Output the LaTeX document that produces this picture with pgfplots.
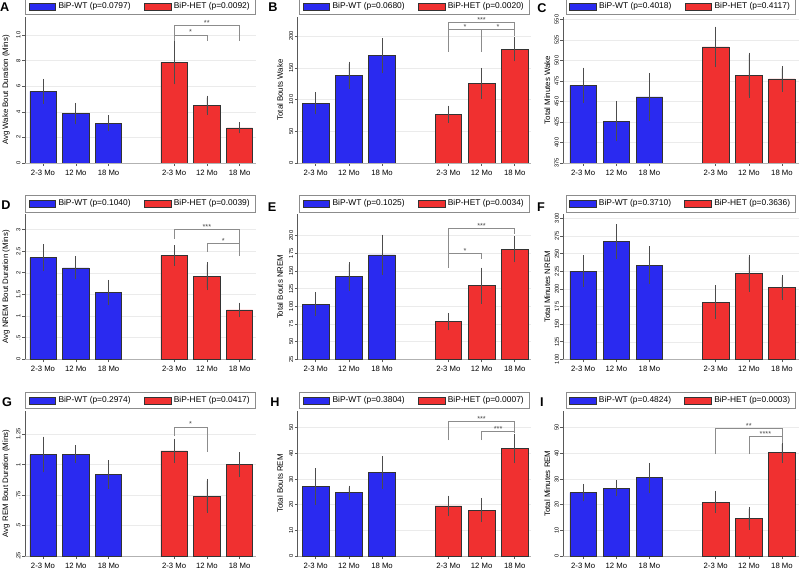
\documentclass[border=0pt]{standalone}
\usepackage{pgfplots}
\pgfplotsset{compat=1.18}
\usepackage{fontspec}
\setmainfont{Liberation Sans}
\definecolor{wtblue}{RGB}{42,42,240}
\definecolor{hetred}{RGB}{240,48,48}
\pgfplotsset{
 panel/.style={
  scale only axis, xmax=7.5,
  axis x line*=bottom, axis y line*=left,
  xtick={1,2,3,5,6,7},
  xticklabels={2-3 Mo,12 Mo,18 Mo,2-3 Mo,12 Mo,18 Mo},
  xticklabel style={font=\fontsize{5.8}{6}\selectfont, inner sep=1pt, yshift=-2pt},
  yticklabel style={font=\fontsize{4.3}{5}\selectfont, rotate=90, anchor=south, inner sep=1pt},
  ylabel style={font=\fontsize{5.9}{6}\selectfont, anchor=center},
  tick align=outside, major tick length=2.2pt,
  ymajorgrids, grid style={black!8, line width=0.3pt},
  tick style={black!65, line width=0.4pt},
  x axis line style={black!30, line width=0.4pt},
  y axis line style={black!65, line width=0.4pt},
  legend columns=2,
  legend style={at={(0.5,1)}, anchor=south, yshift=1.5pt, draw=black!45, line width=0.4pt,
    font=\fontsize{6.3}{7}\selectfont, inner xsep=2.2pt, inner ysep=1.2pt,
    /tikz/every even column/.append style={column sep=8pt}},
 },
 col1/.style={xmin=0.45, width=173.25pt, ylabel style={at={(axis description cs:-0.082,0.5)}}},
 col2/.style={xmin=0.46, width=175.2pt, ylabel style={at={(axis description cs:-0.076,0.5)}}},
 col3/.style={xmin=0.40, width=176.4pt, ylabel style={at={(axis description cs:-0.068,0.5)}}},
 row1/.style={height=109.5pt},
 row2/.style={height=108.75pt},
 row3/.style={height=108.75pt},
 wt/.style={ybar, bar width=0.8, bar shift=0pt, fill=wtblue, draw=black!80, line width=0.4pt,
   legend image code/.code={\draw[##1, draw=black!80] (0pt,-2.6pt) rectangle (20pt,2.6pt);},
   error bars/.cd, y dir=both, y explicit, error mark=-,
   error bar style={black!70, line width=0.45pt},
   error mark options={black!70, line width=0.45pt, mark size=1.6pt}},
 het/.style={ybar, bar width=0.8, bar shift=0pt, fill=hetred, draw=black!80, line width=0.4pt,
   legend image code/.code={\draw[##1, draw=black!80] (0pt,-2.6pt) rectangle (20pt,2.6pt);},
   error bars/.cd, y dir=both, y explicit, error mark=-,
   error bar style={black!70, line width=0.45pt},
   error mark options={black!70, line width=0.45pt, mark size=1.6pt}},
 brk/.style={forget plot, black!45, line width=0.5pt, no marks, sharp plot},
}
\tikzset{stars/.style={font=\fontsize{5.5}{6}\selectfont, anchor=base, inner sep=0pt, text=black!70},
  letter/.style={font=\fontsize{9.5}{10}\selectfont\bfseries, anchor=center, inner sep=0pt}}
\begin{document}
\begin{tikzpicture}
% ---------------- A
\begin{axis}[panel, col1, row1, at={(18.75pt,306.75pt)}, anchor=south west,
  ymin=0, ymax=11.4, ytick={0,2,4,6,8,10}, yticklabels={0,2,4,6,8,10},
  ylabel={Avg Wake Bout Duration (Mins)}]
\addplot[wt] coordinates {(1,5.6) +- (0,0.8) (2,3.85) +- (0,0.67) (3,3.1) +- (0,0.45)};
\addlegendentry{BiP-WT (p=0.0797)}
\addplot[het] coordinates {(5,7.85) +- (0,1.55) (6,4.5) +- (0,0.6) (7,2.75) +- (0,0.27)};
\addlegendentry{BiP-HET (p=0.0092)}
\addplot[brk] coordinates {(5,9.56) (5,10.73) (7,10.73) (7,9.56)};
\addplot[brk] coordinates {(5,10.0) (6,10.0) (6,9.56)};
\node[stars] at (axis cs:6,10.73) {**};
\node[stars] at (axis cs:5.5,10.0) {*};
\end{axis}
% ---------------- B
\begin{axis}[panel, col2, row1, at={(223.3pt,306.75pt)}, anchor=south west,
  ymin=0, ymax=230, ytick={0,50,100,150,200}, yticklabels={0,50,100,150,200},
  ylabel={Total Bouts Wake}]
\addplot[wt] coordinates {(1,94) +- (0,14) (2,138.5) +- (0,17.8) (3,169) +- (0,24.5)};
\addlegendentry{BiP-WT (p=0.0680)}
\addplot[het] coordinates {(5,77) +- (0,10) (6,125.5) +- (0,21) (7,179.5) +- (0,16)};
\addlegendentry{BiP-HET (p=0.0020)}
\addplot[brk] coordinates {(5,175.5) (5,222) (7,222) (7,200)};
\addplot[brk] coordinates {(5,210.6) (7,210.6)};
\addplot[brk] coordinates {(6,210.6) (6,175.5)};
\node[stars] at (axis cs:6,222) {***};
\node[stars] at (axis cs:5.5,210.6) {*};
\node[stars] at (axis cs:6.5,210.6) {*};
\end{axis}
% ---------------- C
\begin{axis}[panel, col3, row1, at={(422.5pt,306.75pt)}, anchor=south west,
  ymin=375, ymax=553, ytick={375,400,425,450,475,500,525,550},
  yticklabels={375,400,425,450,475,500,525,550},
  ylabel={Total Minutes Wake}]
\addplot[wt] coordinates {(1,469.7) +- (0,19) (2,426) +- (0,22) (3,455.7) +- (0,26.5)};
\addlegendentry{BiP-WT (p=0.4018)}
\addplot[het] coordinates {(5,516.6) +- (0,22) (6,482) +- (0,25) (7,477.5) +- (0,13)};
\addlegendentry{BiP-HET (p=0.4117)}
\end{axis}
% ---------------- D
\begin{axis}[panel, col1, row2, at={(18.75pt,159.5pt)}, anchor=south west,
  ymin=0, ymax=3.35, ytick={0,0.5,1,1.5,2,2.5,3}, yticklabels={0,.5,1,1.5,2,2.5,3},
  ylabel={Avg NREM Bout Duration (Mins)}]
\addplot[wt] coordinates {(1,2.35) +- (0,0.26) (2,2.115) +- (0,0.22) (3,1.54) +- (0,0.245)};
\addlegendentry{BiP-WT (p=0.1040)}
\addplot[het] coordinates {(5,2.4) +- (0,0.19) (6,1.92) +- (0,0.27) (7,1.14) +- (0,0.12)};
\addlegendentry{BiP-HET (p=0.0039)}
\addplot[brk] coordinates {(5,2.79) (5,3.0) (7,3.0) (7,2.39)};
\addplot[brk] coordinates {(6,2.48) (6,2.68) (7,2.68)};
\node[stars] at (axis cs:6,3.0) {***};
\node[stars] at (axis cs:6.5,2.68) {*};
\end{axis}
% ---------------- E
\begin{axis}[panel, col2, row2, at={(223.3pt,159.5pt)}, anchor=south west,
  ymin=25, ymax=230, ytick={25,50,75,100,125,150,175,200},
  yticklabels={25,50,75,100,125,150,175,200},
  ylabel={Total Bouts NREM}]
\addplot[wt] coordinates {(1,102.8) +- (0,14) (2,142) +- (0,17.3) (3,172.6) +- (0,25.7)};
\addlegendentry{BiP-WT (p=0.1025)}
\addplot[het] coordinates {(5,78.3) +- (0,9.4) (6,129.2) +- (0,22.4) (7,180.7) +- (0,15.6)};
\addlegendentry{BiP-HET (p=0.0034)}
\addplot[brk] coordinates {(5,154.7) (5,210.4) (7,210.4) (7,201.9)};
\addplot[brk] coordinates {(5,175) (6,175) (6,167)};
\node[stars] at (axis cs:6,210.4) {***};
\node[stars] at (axis cs:5.5,175) {*};
\end{axis}
% ---------------- F
\begin{axis}[panel, col3, row2, at={(422.5pt,159.5pt)}, anchor=south west,
  ymin=100, ymax=305.7, ytick={100,125,150,175,200,225,250,275,300},
  yticklabels={100,125,150,175,200,225,250,275,300},
  ylabel={Total Minutes NREM}]
\addplot[wt] coordinates {(1,225.3) +- (0,19.6) (2,266.9) +- (0,22) (3,233.3) +- (0,24)};
\addlegendentry{BiP-WT (p=0.3710)}
\addplot[het] coordinates {(5,181.3) +- (0,21) (6,222) +- (0,23) (7,201.7) +- (0,14.6)};
\addlegendentry{BiP-HET (p=0.3636)}
\end{axis}
% ---------------- G
\begin{axis}[panel, col1, row3, at={(18.75pt,12pt)}, anchor=south west,
  ymin=0.25, ymax=1.44, ytick={0.25,0.5,0.75,1,1.25}, yticklabels={.25,.5,.75,1,1.25},
  ylabel={Avg REM Bout Duration (Mins)}]
\addplot[wt] coordinates {(1,1.083) +- (0,0.13) (2,1.086) +- (0,0.055) (3,0.919) +- (0,0.1)};
\addlegendentry{BiP-WT (p=0.2974)}
\addplot[het] coordinates {(5,1.113) +- (0,0.083) (6,0.742) +- (0,0.123) (7,1.0) +- (0,0.085)};
\addlegendentry{BiP-HET (p=0.0417)}
\addplot[brk] coordinates {(5,1.234) (5,1.31) (6,1.31) (6,1.1)};
\node[stars] at (axis cs:5.5,1.31) {*};
\end{axis}
% ---------------- H
\begin{axis}[panel, col2, row3, at={(223.3pt,12pt)}, anchor=south west,
  ymin=0, ymax=56.5, ytick={0,10,20,30,40,50}, yticklabels={0,10,20,30,40,50},
  ylabel={Total Bouts REM}]
\addplot[wt] coordinates {(1,27.0) +- (0,6.3) (2,24.7) +- (0,1.9) (3,32.6) +- (0,5.5)};
\addlegendentry{BiP-WT (p=0.3804)}
\addplot[het] coordinates {(5,19.5) +- (0,3.2) (6,17.9) +- (0,3.9) (7,41.9) +- (0,5)};
\addlegendentry{BiP-HET (p=0.0007)}
\addplot[brk] coordinates {(5,45.2) (5,52.6) (7,52.6) (7,47.8)};
\addplot[brk] coordinates {(6,45.2) (6,48.7) (7,48.7)};
\node[stars] at (axis cs:6,52.6) {***};
\node[stars] at (axis cs:6.5,48.7) {***};
\end{axis}
% ---------------- I
\begin{axis}[panel, col3, row3, at={(422.5pt,12pt)}, anchor=south west,
  ymin=0, ymax=56.5, ytick={0,10,20,30,40,50}, yticklabels={0,10,20,30,40,50},
  ylabel={Total Minutes REM}]
\addplot[wt] coordinates {(1,24.7) +- (0,2.6) (2,26.4) +- (0,2.3) (3,30.5) +- (0,5)};
\addlegendentry{BiP-WT (p=0.4824)}
\addplot[het] coordinates {(5,21.0) +- (0,3.5) (6,14.7) +- (0,3.6) (7,40.4) +- (0,3.2)};
\addlegendentry{BiP-HET (p=0.0003)}
\addplot[brk] coordinates {(5,39.7) (5,49.7) (7,49.7) (7,43.9)};
\addplot[brk] coordinates {(6,39.7) (6,46.75) (7,46.75)};
\node[stars] at (axis cs:6,49.7) {**};
\node[stars] at (axis cs:6.5,46.75) {****};
\end{axis}
% panel letters
\node[letter] at (3.5pt,423.5pt) {A};
\node[letter] at (204.75pt,423.5pt) {B};
\node[letter] at (406.5pt,423pt) {C};
\node[letter] at (4.5pt,275.25pt) {D};
\node[letter] at (204pt,273.75pt) {E};
\node[letter] at (405.75pt,273.75pt) {F};
\node[letter] at (5.25pt,127.5pt) {G};
\node[letter] at (206.25pt,127.5pt) {H};
\node[letter] at (406.5pt,127.5pt) {I};
\pgfresetboundingbox
\path (0,0) rectangle (600pt,429pt);
\end{tikzpicture}
\end{document}
